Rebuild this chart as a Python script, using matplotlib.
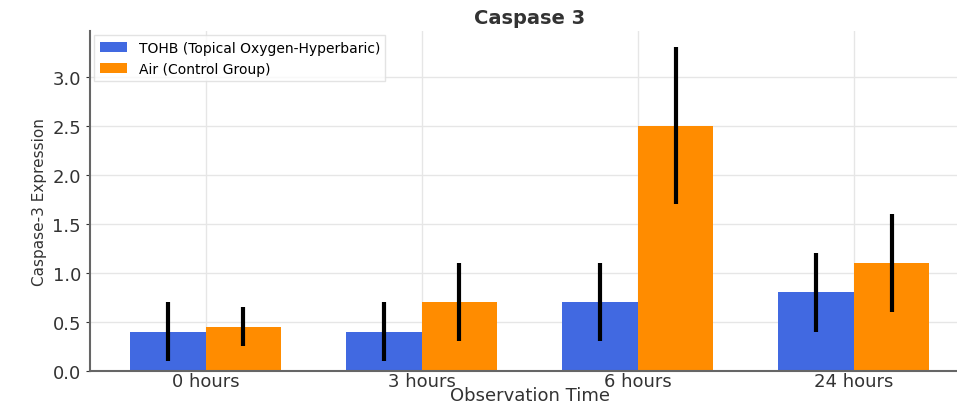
import numpy as np
import matplotlib
matplotlib.use('Agg')
import matplotlib.pyplot as plt

# Data
times = ['0 hours', '3 hours', '6 hours', '24 hours']
tohb_mean = [0.4, 0.4, 0.7, 0.8]
tohb_err = [0.3, 0.3, 0.4, 0.4]
air_mean = [0.45, 0.7, 2.5, 1.1]
air_err = [0.2, 0.4, 0.8, 0.5]

fig = plt.figure(figsize=(9.57, 4.06), dpi=100)
ax = fig.add_axes([0.094, 0.084, 0.919, 0.837])

x = np.arange(len(times))
w = 0.35
err_kw = dict(ecolor='black', elinewidth=3, capsize=0)
ax.bar(x - w/2, tohb_mean, w, yerr=tohb_err, color='#4169E1',
       label='TOHB (Topical Oxygen-Hyperbaric)', error_kw=err_kw)
ax.bar(x + w/2, air_mean, w, yerr=air_err, color='#FF8C00',
       label='Air (Control Group)', error_kw=err_kw)

ax.set_xticks(x)
ax.set_xticklabels(times, fontsize=13)
ax.tick_params(axis='y', labelsize=13, colors='#333333', length=3)
ax.tick_params(axis='x', length=0, pad=1, colors='#333333')
ax.set_yticks(np.arange(0, 3.01, 0.5))
ax.set_xlim(-0.535, 3.535)
ax.set_ylim(0, 3.465)

ax.set_title('Caspase 3', fontsize=14, fontweight='bold', color='#333333')
ax.set_xlabel('Observation Time', fontsize=13, labelpad=-3, color='#333333')
ax.set_ylabel('Caspase-3 Expression', fontsize=11, color='#333333')

ax.grid(True, color='#e6e6e6', linewidth=1)
ax.set_axisbelow(True)
for s in ['top', 'right']:
    ax.spines[s].set_visible(False)
for s in ['left', 'bottom']:
    ax.spines[s].set_color('#666666')
    ax.spines[s].set_linewidth(1.5)

ax.legend(loc='upper left', fontsize=10, frameon=True, fancybox=False,
          edgecolor='#dddddd', borderaxespad=0.3)

fig.savefig('out.png', dpi=100)
